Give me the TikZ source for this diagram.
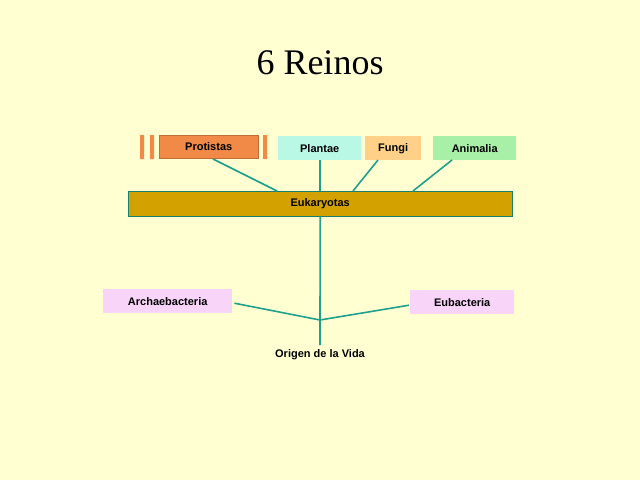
\documentclass[tikz,border=0pt]{standalone}
\usepackage{fontspec}
\setmainfont{Liberation Sans}
\newfontfamily\titlefont{Liberation Serif}
\definecolor{bg}{HTML}{FFFFD2}
\definecolor{teal1}{HTML}{1FA08C}
\begin{document}
\begin{tikzpicture}[x=1pt,y=-1pt,
  box/.style={draw=#1!80!black,line width=0.4pt,inner sep=0pt,font=\bfseries\fontsize{11}{13}\selectfont,anchor=north west},
  link/.style={draw=teal1,line width=1.6pt}]
\fill[bg] (0,0) rectangle (640,480);
\useasboundingbox (0,0) rectangle (640,480);
\node[font=\titlefont\fontsize{36}{40}\selectfont] (title) at (320,63) {6 Reinos};
\definecolor{cpro}{HTML}{F08A46}
\definecolor{cpla}{HTML}{B8F8E4}
\definecolor{cfun}{HTML}{FFD088}
\definecolor{cani}{HTML}{A8F0A8}
\definecolor{ceuk}{HTML}{D4A200}
\definecolor{cbac}{HTML}{F8D4F8}
\fill[cpro] (140,135) rectangle (144,159) (150,135) rectangle (154,159) (263,135) rectangle (267,159);
\node[box=cpro,fill=cpro,minimum width=99,minimum height=23] (pro) at (159,135) {Protistas};
\node[box=cpla,draw=none,fill=cpla,minimum width=83,minimum height=24] (pla) at (278,136) {Plantae};
\node[box=cfun,draw=none,fill=cfun,minimum width=56,minimum height=24] (fun) at (365,136) {Fungi};
\node[box=cani,draw=none,fill=cani,minimum width=83,minimum height=24] (ani) at (433,136) {Animalia};
\node[box=teal1,fill=ceuk,minimum width=384,minimum height=25] (euk) at (128,191) {Eukaryotas};
\node[box=cbac,draw=none,fill=cbac,minimum width=129,minimum height=24] (arc) at (103,289) {Archaebacteria};
\node[box=cbac,draw=none,fill=cbac,minimum width=104,minimum height=24] (eub) at (410,290) {Eubacteria};
\node[font=\bfseries\fontsize{11}{13}\selectfont] (ori) at (320,355) {Origen de la Vida};
\coordinate (j) at (320,320);
\coordinate (e1) at (277,191);
\coordinate (e3) at (353,191);
\coordinate (e4) at (413,191);
\draw[link] (213,159) -- (e1);
\draw[link] (pla.south) -- (pla.south |- euk.north);
\draw[link] (378,160) -- (e3);
\draw[link] (452,160) -- (e4);
\draw[link] (euk.south) -- (j) -- (320,345);
\draw[link] (arc.east) ++(2,2) -- (j);
\draw[link] (eub.west) ++(-1,3) -- (j);
\end{tikzpicture}
\end{document}
